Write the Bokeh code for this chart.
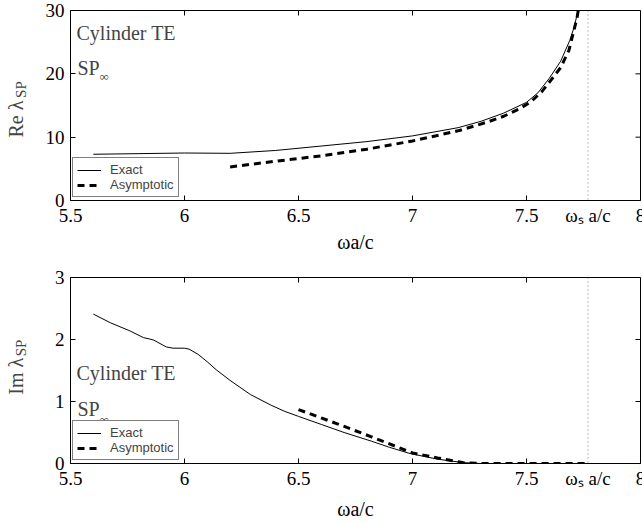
import math
from bokeh.plotting import figure
from bokeh.models import FixedTicker, Label, Span, Legend, LegendItem, Range1d
from bokeh.layouts import column, row
from bokeh.embed import file_html
from bokeh.resources import INLINE

# ---- data ----
x_ticks = [5.5, 6.0, 6.5, 7.0, 7.5, 8.0]
x_tick_labels = ["5.5", "6", "6.5", "7", "7.5", "8"]
omega_s = 7.77
omega_s_label = "ωₛ a/c"

re_ticks = [0, 10, 20, 30]
im_ticks = [0, 1, 2, 3]

re_exact_x = [5.6, 5.8, 6.0, 6.2, 6.4, 6.6, 6.8, 7.0, 7.2, 7.3, 7.4, 7.5, 7.55, 7.6, 7.65, 7.69, 7.71, 7.726, 7.74]
re_exact_y = [7.3, 7.4, 7.5, 7.45, 7.9, 8.6, 9.3, 10.2, 11.5, 12.5, 13.8, 15.5, 17.0, 19.3, 22.0, 25.3, 27.5, 30.0, 32.5]

re_asym_x = [6.2, 6.4, 6.6, 6.8, 7.0, 7.2, 7.33, 7.4, 7.47, 7.52, 7.57, 7.605, 7.65, 7.686, 7.722, 7.74]
re_asym_y = [5.3, 6.2, 7.05, 8.1, 9.4, 11.0, 12.4, 13.3, 14.5, 15.6, 17.3, 18.9, 21.0, 23.7, 28.9, 33.0]

im_exact_x = [5.6, 5.675, 5.76, 5.82, 5.845, 5.865, 5.92, 5.95, 5.98, 6.0, 6.02, 6.06, 6.1, 6.14,
              6.2, 6.29, 6.38, 6.44, 6.5, 6.6, 6.7, 6.82, 6.9, 6.99, 7.11, 7.22, 7.3, 7.77]
im_exact_y = [2.41, 2.27, 2.14, 2.03, 2.01, 1.99, 1.88, 1.86, 1.86, 1.86, 1.845, 1.76, 1.64, 1.51,
              1.34, 1.11, 0.94, 0.84, 0.76, 0.63, 0.5, 0.36, 0.26, 0.16, 0.07, 0.015, 0.0, 0.0]

im_asym_x = [6.5, 6.67, 6.82, 7.0, 7.11, 7.22, 7.3, 7.77]
im_asym_y = [0.87, 0.64, 0.43, 0.17, 0.09, 0.015, 0.0, 0.0]

SERIF = "Liberation Serif"
SANS = "Liberation Sans"
TICK_FS = "19px"
TEXT_FS = "20px"
LAB_W = 34


def make_panel(ylim, yticks, exact, asym, ylab_main, ylab_y, sub_y, texts,
               height, top_border, bottom_border, label_standoff):
    yr = Range1d(*ylim)
    p = figure(width=642 - LAB_W, height=height, output_backend="svg", toolbar_location=None,
               x_range=Range1d(5.5, 8.0), y_range=yr,
               min_border_left=36, min_border_right=2, min_border_top=top_border,
               min_border_bottom=bottom_border)
    p.grid.visible = False
    p.outline_line_color = "black"
    p.outline_line_width = 1

    xa = p.xaxis[0]
    ticks_all = x_ticks + [omega_s]
    xa.ticker = FixedTicker(ticks=ticks_all)
    ov = {t: l for t, l in zip(x_ticks, x_tick_labels)}
    ov[omega_s] = omega_s_label
    xa.major_label_overrides = ov
    xa.major_tick_in = 0
    xa.major_tick_out = 0
    ya = p.yaxis[0]
    ya.ticker = FixedTicker(ticks=yticks)
    ya.major_tick_in = 5
    ya.major_tick_out = 0
    for ax in (xa, ya):
        ax.minor_tick_in = 0
        ax.minor_tick_out = 0
        ax.axis_line_color = "black"
        ax.major_tick_line_color = "black"
        ax.major_label_text_font = SERIF
        ax.major_label_text_font_size = TICK_FS
        ax.major_label_text_color = "black"
    xa.major_label_standoff = 4
    ya.major_label_standoff = 6
    xa.axis_label = "ωa/c"
    xa.axis_label_text_font = SERIF
    xa.axis_label_text_font_style = "normal"
    xa.axis_label_text_font_size = TEXT_FS
    xa.axis_label_text_color = "black"
    xa.axis_label_standoff = label_standoff

    # inward tick marks on bottom, top and right edges, from the tick arrays
    n = len(x_ticks)
    p.ray(x=x_ticks, y=[ylim[0]] * n, length=5, length_units="screen",
          angle=math.pi / 2, line_color="black", line_width=1)
    p.ray(x=x_ticks, y=[ylim[1]] * n, length=5, length_units="screen",
          angle=-math.pi / 2, line_color="black", line_width=1)
    p.ray(x=[8.0] * len(yticks), y=yticks, length=5, length_units="screen",
          angle=math.pi, line_color="black", line_width=1)

    p.add_layout(Span(location=omega_s, dimension="height", line_color="#777777",
                      line_dash="1 3", line_width=1))

    r1 = p.line(exact[0], exact[1], line_color="black", line_width=1)
    r2 = p.line(asym[0], asym[1], line_color="black", line_width=3, line_dash="7 5")

    leg = Legend(items=[LegendItem(label="Exact", renderers=[r1]),
                        LegendItem(label="Asymptotic", renderers=[r2])],
                 location=(2, 3), label_text_font=SANS, label_text_font_size="13px",
                 label_height=12, glyph_height=12, glyph_width=24, spacing=0,
                 padding=4, margin=0, label_standoff=9,
                 border_line_color="black", border_line_width=1,
                 background_fill_alpha=1.0)
    p.add_layout(leg, "center")

    (cy, spy, infy) = texts
    p.add_layout(Label(x=5.5, y=cy, text="Cylinder TE", x_offset=6, text_align="left",
                       text_baseline="middle", text_font=SERIF, text_font_size=TEXT_FS))
    p.add_layout(Label(x=5.5, y=spy, text="SP", x_offset=7, text_align="left",
                       text_baseline="middle", text_font=SERIF, text_font_size=TEXT_FS))
    p.add_layout(Label(x=5.5, y=infy, text="∞", x_offset=29, text_align="left",
                       text_baseline="middle", text_font=SERIF, text_font_size="13px"))

    # side strip holding the rotated y-axis label
    lab = figure(width=LAB_W, height=height, output_backend="svg", toolbar_location=None,
                 x_range=Range1d(0, LAB_W), y_range=yr, x_axis_location=None,
                 y_axis_location=None, min_border_left=0, min_border_right=0,
                 min_border_top=top_border, min_border_bottom=bottom_border)
    lab.outline_line_color = None
    lab.grid.visible = False
    lab.add_layout(Label(x=15, y=ylab_y, text=ylab_main, angle=math.pi / 2,
                         text_align="left", text_baseline="alphabetic", text_font=SERIF,
                         text_font_size=TEXT_FS))
    lab.add_layout(Label(x=20, y=sub_y, text="SP", angle=math.pi / 2,
                         text_align="left", text_baseline="alphabetic", text_font=SERIF,
                         text_font_size="15px"))
    return row(lab, p, spacing=0)


r1_ = make_panel((0, 30), re_ticks, (re_exact_x, re_exact_y), (re_asym_x, re_asym_y),
                 "Re λ", 9.95, 16.2, (26.4, 21.0, 19.6), 260, 10, 60, 2)
r2_ = make_panel((0, 3), im_ticks, (im_exact_x, im_exact_y), (im_asym_x, im_asym_y),
                 "Im λ", 1.11, 1.73, (1.453, 0.873, 0.715), 262, 17, 55, 6)

layout = column(r1_, r2_, spacing=0)
open("out.html", "w").write(file_html(layout, INLINE))
